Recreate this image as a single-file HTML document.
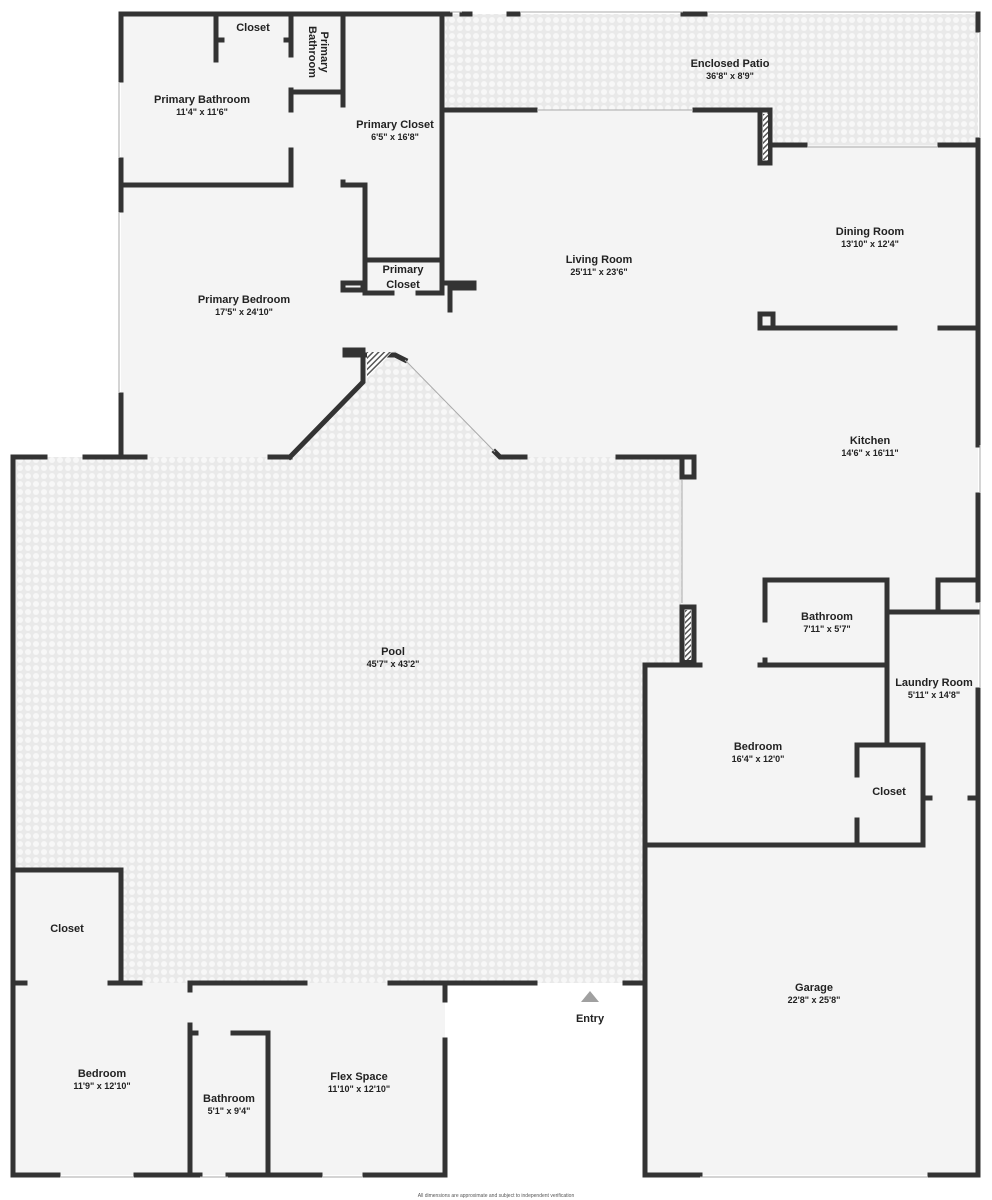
<!DOCTYPE html>
<html><head><meta charset="utf-8"><style>
html,body{margin:0;padding:0;background:#fff}
svg{display:block}
text{font-family:"Liberation Sans",sans-serif;fill:#222;text-anchor:middle}
.n{font-size:11px;font-weight:bold}
.d{font-size:9px;font-weight:bold}
</style></head><body>
<svg width="992" height="1200" viewBox="0 0 992 1200" xmlns="http://www.w3.org/2000/svg">
<defs>
<pattern id="tile" width="8" height="8" patternUnits="userSpaceOnUse">
<rect width="8" height="8" fill="#e9e9e9"/><circle cx="4" cy="4" r="3" fill="#f7f7f7"/>
</pattern>
<pattern id="hatch" width="4" height="4" patternUnits="userSpaceOnUse" patternTransform="rotate(45)">
<rect width="4" height="4" fill="#fff"/><rect width="1.5" height="4" fill="#555"/>
</pattern>
</defs>
<g fill="#f4f4f4">
<rect x="121" y="14" width="321" height="443"/>
<rect x="442" y="110" width="536" height="555"/>
<rect x="645" y="560" width="333" height="615"/>
<rect x="13" y="870" width="108" height="113"/>
<rect x="13" y="983" width="432" height="192"/>
</g>
<rect x="445" y="14" width="533" height="96" fill="url(#tile)"/>
<rect x="773" y="110" width="205" height="35" fill="url(#tile)"/>
<polygon points="13,457 290,457 395,350 500,457 682,457 682,665 645,665 645,983 121,983 121,870 13,870" fill="url(#tile)"/>
<g stroke="#333" stroke-width="5" fill="none" stroke-linecap="square">
<path d="M121,14 H445"/>
<path d="M121,14 V80 M121,160 V210 M121,395 V457"/>
<path d="M121,185 H291 V150 M291,110 V90 M291,14 V55"/>
<path d="M216,14 V60 M216,40 H222 M286,40 H291"/>
<path d="M291,92 H343 M343,14 V105 M343,182 V185 H365 V260 H442"/>
<path d="M442,14 V290"/>
<path d="M365,260 V293 H392 M418,293 H442"/>
<path d="M343,283 H363 V290 H343Z"/>
<path d="M445,283 H474 V288 H450 V310"/>
<path d="M290,457 L363,382 V350 H345 V355 H395 L405,360"/>
<path d="M495,452 L500,457 H525"/>
<path d="M13,457 H45 M85,457 H145 M270,457 H290"/>
<path d="M618,457 H682 V477 H694 V457 H682"/>
<path d="M442,110 H535 M695,110 H770 V163 H760 V110"/>
<path d="M773,145 H805 M940,145 H978"/>
<path d="M978,14 V30 M978,140 V445 M978,495 V600 M978,690 V1175"/>
<path d="M445,14 H450 M462,14 H470 M509,14 H518 M683,14 H705"/>
<path d="M760,314 H773 V328 H760Z M773,328 H895 M940,328 H978"/>
<path d="M682,607 H694 V662 H682Z"/>
<path d="M765,620 V580 H887 V665 H760 M765,660 V665"/>
<path d="M887,612 H978 M938,580 H978 M938,580 V612"/>
<path d="M887,612 V745"/>
<path d="M645,665 H700"/>
<path d="M645,665 V695 M645,815 V845"/>
<path d="M645,845 H923 V745 H857 V775 M857,820 V845"/>
<path d="M923,798 H930 M970,798 H978"/>
<path d="M645,845 V1175 H700 M930,1175 H978"/>
<path d="M645,875 V930"/>
<path d="M13,457 V1175"/>
<path d="M13,870 H121 V983"/>
<path d="M13,983 H25 M110,983 H140 M190,983 H305 M390,983 H535 M625,983 H645"/>
<path d="M645,665 V880 M645,950 V983"/>
<path d="M13,1175 H58 M136,1175 H190 V1175 M235,1175 H320 M365,1175 H445"/>
<path d="M190,983 V990 M190,1025 V1175"/>
<path d="M190,1033 H196 M233,1033 H268 V1175"/>
<path d="M445,983 V1000 M445,1040 V1175"/>
<path d="M190,1175 H200 M228,1175 H235"/>
</g>
<rect x="763" y="114" width="5" height="46" fill="url(#hatch)"/>
<rect x="685" y="610" width="6" height="50" fill="url(#hatch)"/>
<polygon points="367,352 392,352 367,378" fill="url(#hatch)"/>
<g stroke="#aaa" stroke-width="1" fill="none">
<path d="M450,12 H462 M520,12 H683 M708,12 H975 M808,147 H938 M980,32 V138 M119,82 V158 M119,212 V393 M682,480 V603 M980,445 V493 M980,602 V688 M60,1177 H134 M322,1177 H363 M700,1177 H928 M537,110 H693 M200,1177 H228 M405,360 L495,452"/>
</g>
<polygon points="590,991 581,1002 599,1002" fill="#a0a0a0"/>
<text class="n" x="253" y="31">Closet</text>
<text class="n" transform="rotate(90 317 52)"><tspan x="317" y="48">Primary</tspan><tspan x="317" y="60">Bathroom</tspan></text>
<text class="n" x="202" y="103">Primary Bathroom</text><text class="d" x="202" y="115">11'4" x 11'6"</text>
<text class="n" x="395" y="128">Primary Closet</text><text class="d" x="395" y="140">6'5" x 16'8"</text>
<text class="n" x="403" y="273">Primary</text><text class="n" x="403" y="288">Closet</text>
<text class="n" x="244" y="303">Primary Bedroom</text><text class="d" x="244" y="315">17'5" x 24'10"</text>
<text class="n" x="730" y="67">Enclosed Patio</text><text class="d" x="730" y="79">36'8" x 8'9"</text>
<text class="n" x="599" y="263">Living Room</text><text class="d" x="599" y="275">25'11" x 23'6"</text>
<text class="n" x="870" y="235">Dining Room</text><text class="d" x="870" y="247">13'10" x 12'4"</text>
<text class="n" x="870" y="444">Kitchen</text><text class="d" x="870" y="456">14'6" x 16'11"</text>
<text class="n" x="827" y="620">Bathroom</text><text class="d" x="827" y="632">7'11" x 5'7"</text>
<text class="n" x="934" y="686">Laundry Room</text><text class="d" x="934" y="698">5'11" x 14'8"</text>
<text class="n" x="758" y="750">Bedroom</text><text class="d" x="758" y="762">16'4" x 12'0"</text>
<text class="n" x="889" y="795">Closet</text>
<text class="n" x="393" y="655">Pool</text><text class="d" x="393" y="667">45'7" x 43'2"</text>
<text class="n" x="67" y="932">Closet</text>
<text class="n" x="814" y="991">Garage</text><text class="d" x="814" y="1003">22'8" x 25'8"</text>
<text class="n" x="590" y="1022">Entry</text>
<text class="n" x="102" y="1077">Bedroom</text><text class="d" x="102" y="1089">11'9" x 12'10"</text>
<text class="n" x="229" y="1102">Bathroom</text><text class="d" x="229" y="1114">5'1" x 9'4"</text>
<text class="n" x="359" y="1080">Flex Space</text><text class="d" x="359" y="1092">11'10" x 12'10"</text>
<text x="496" y="1197" style="font-size:5px;fill:#555">All dimensions are approximate and subject to independent verification</text>
</svg>
</body></html>
